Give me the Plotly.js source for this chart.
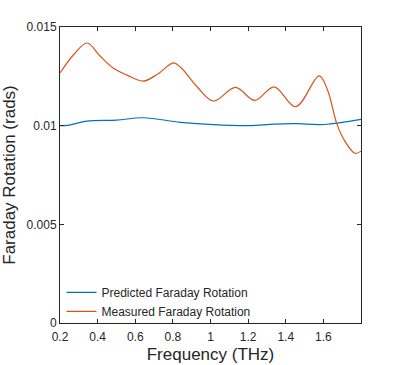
<!DOCTYPE html>
<html>
<head>
<meta charset="utf-8">
<script src="https://cdn.plot.ly/plotly-3.0.1.min.js"></script>
<style>
  html, body { margin: 0; padding: 0; background: #fff; }
  #chart { width: 399px; height: 365px; }
</style>
</head>
<body>
<div id="chart"></div>
<script>
// Frequências (THz) e rotação de Faraday (rad)
const freqMeasured = [0.2, 0.271, 0.344, 0.413, 0.483, 0.556, 0.643, 0.72, 0.803, 0.84, 0.929, 1.016, 1.133, 1.235, 1.338, 1.453, 1.578, 1.622, 1.672, 1.711, 1.768, 1.8];
const measured = [0.01267, 0.01358, 0.01419, 0.01353, 0.01292, 0.01256, 0.01226, 0.01262, 0.01318, 0.01297, 0.01197, 0.01125, 0.01194, 0.01128, 0.01197, 0.01096, 0.01252, 0.01181, 0.01008, 0.00927, 0.0086, 0.00871];

const freqPredicted = [0.2, 0.25, 0.342, 0.5, 0.643, 0.84, 1.016, 1.203, 1.338, 1.45, 1.603, 1.8];
const predicted = [0.01, 0.01003, 0.01023, 0.01028, 0.0104, 0.01017, 0.01005, 0.01, 0.01008, 0.0101, 0.01006, 0.01032];

const xTicks = [0.2, 0.4, 0.6, 0.8, 1, 1.2, 1.4, 1.6];
const xTickText = ['0.2', '0.4', '0.6', '0.8', '1', '1.2', '1.4', '1.6'];
const yTicks = [0, 0.005, 0.01, 0.015];
const yTickText = ['0', '0.005', '0.01', '0.015'];

const data = [
    {
        x: freqPredicted,
        y: predicted,
        mode: 'lines',
        name: 'Predicted Faraday Rotation',
        line: { color: '#0072BD', width: 1.2, shape: 'spline', smoothing: 1 }
    },
    {
        x: freqMeasured,
        y: measured,
        mode: 'lines',
        name: 'Measured Faraday Rotation',
        line: { color: '#D95319', width: 1.2, shape: 'spline', smoothing: 1 }
    }
];

const axisStyle = {
    showline: true,
    linecolor: '#262626',
    linewidth: 1,
    mirror: 'ticks',
    ticks: 'inside',
    ticklen: 4,
    tickcolor: '#262626',
    showgrid: false,
    zeroline: false,
    tickfont: { family: 'Liberation Sans', size: 12, color: '#262626' }
};

const layout = {
    width: 399,
    height: 365,
    margin: { l: 60, r: 38, t: 27, b: 42 },
    paper_bgcolor: '#ffffff',
    plot_bgcolor: '#ffffff',
    showlegend: true,
    legend: {
        x: 0.005, y: -0.01, xanchor: 'left', yanchor: 'bottom',
        bgcolor: 'rgba(255,255,255,0)',
        font: { family: 'Liberation Sans', size: 12, color: '#262626' },
        tracegroupgap: 0,
        itemwidth: 30
    },
    xaxis: Object.assign({}, axisStyle, {
        range: [0.2, 1.8],
        tickvals: xTicks,
        ticktext: xTickText,
        ticklabelstandoff: 3,
        title: { text: 'Frequency (THz)', font: { family: 'Liberation Sans', size: 17, color: '#262626' }, standoff: 4 }
    }),
    yaxis: Object.assign({}, axisStyle, {
        range: [0, 0.015],
        tickvals: yTicks,
        ticktext: yTickText,
        title: { text: 'Faraday Rotation (rads)', font: { family: 'Liberation Sans', size: 17, color: '#262626' }, standoff: 6 }
    })
};

Plotly.newPlot('chart', data, layout, { displayModeBar: false, staticPlot: true });
</script>
</body>
</html>
